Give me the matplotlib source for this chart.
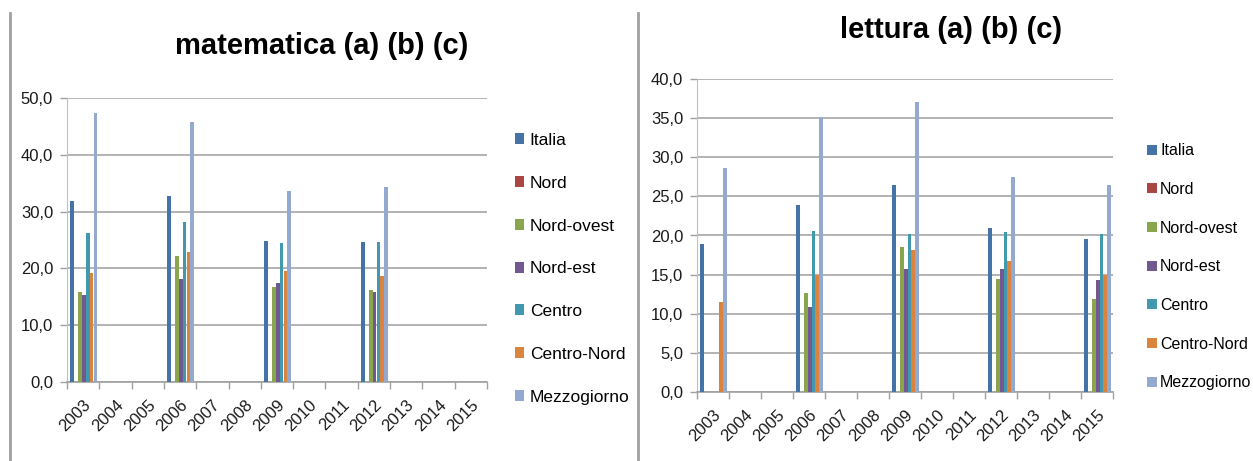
import numpy as np
import matplotlib
matplotlib.use('Agg')
import matplotlib.pyplot as plt
import matplotlib.transforms as mtransforms
from matplotlib.lines import Line2D
from matplotlib.patches import Patch

plt.rcParams['font.family'] = ['Liberation Sans', 'DejaVu Sans']

years = list(range(2003, 2016))
series = ['Italia', 'Nord', 'Nord-ovest', 'Nord-est', 'Centro', 'Centro-Nord', 'Mezzogiorno']
colors = ['#4572A7', '#AA4643', '#89A54E', '#71588F', '#4198AF', '#DB843D', '#93A9CF']

# matematica: survey years and values per area
mat_years = [2003, 2006, 2009, 2012]
mat_italia = [31.9, 32.7, 24.8, 24.6]
mat_nord = [0, 0, 0, 0]
mat_nordovest = [15.9, 22.2, 16.8, 16.2]
mat_nordest = [15.3, 18.2, 17.4, 15.8]
mat_centro = [26.3, 28.2, 24.4, 24.6]
mat_centronord = [19.2, 22.8, 19.5, 18.7]
mat_mezzogiorno = [47.4, 45.8, 33.6, 34.3]

# lettura
let_years = [2003, 2006, 2009, 2012, 2015]
let_italia = [18.9, 23.9, 26.5, 21.0, 19.5]
let_nord = [0, 0, 0, 0, 0]
let_nordovest = [0, 12.7, 18.5, 14.4, 11.9]
let_nordest = [0, 10.9, 15.7, 15.7, 14.3]
let_centro = [0, 20.6, 20.2, 20.5, 20.2]
let_centronord = [11.5, 15.0, 18.2, 16.7, 15.0]
let_mezzogiorno = [28.6, 35.1, 37.1, 27.5, 26.5]

W, H = 1253, 461
fig = plt.figure(figsize=(W / 100, H / 100), dpi=100)


def px(x0, y0, x1, y1):
    return [x0 / W, 1 - y1 / H, (x1 - x0) / W, (y1 - y0) / H]


def draw(ax, yrs, data, ymax, step):
    pos = [years.index(y) for y in yrs]
    bw = 0.12
    for j, vals in enumerate(data):
        x = np.array(pos) + (j - 3) * bw + 0.02
        ax.bar(x, vals, width=bw * 0.97, color=colors[j], linewidth=0, zorder=3)
    ax.set_xlim(-0.5, len(years) - 0.5)
    ax.set_ylim(0, ymax)
    yt = np.arange(0, ymax + 0.01, step)
    ax.set_yticks(yt)
    ax.set_yticklabels([f'{v:.1f}'.replace('.', ',') for v in yt], fontsize=12,
                       color='#1a1a1a')
    ax.set_xticks(range(len(years)))
    ax.set_xticklabels([str(y) for y in years], rotation=45, ha='right',
                       rotation_mode='anchor', fontsize=12, color='#1a1a1a')
    shift = mtransforms.ScaledTranslation(8 / 100, 0, fig.dpi_scale_trans)
    for lab in ax.get_xticklabels():
        lab.set_transform(lab.get_transform() + shift)
    ax.tick_params(axis='x', length=0, pad=11)
    ax.set_xticks(np.arange(-0.5, len(years)), minor=True)
    ax.tick_params(axis='x', which='minor', length=5, color='#A0A0A0', width=1)
    ax.tick_params(axis='y', length=5, color='#A0A0A0', width=1, pad=5)
    ax.grid(axis='y', color='#A6A6A6', linewidth=1.2, zorder=0)
    for s in ['top', 'right']:
        ax.spines[s].set_visible(False)
    ax.spines['left'].set_color('#C0C0C0')
    ax.spines['bottom'].set_color('#A0A0A0')
    ax.spines['bottom'].set_linewidth(1.2)


ax1 = fig.add_axes(px(67, 98, 487, 382))
draw(ax1, mat_years, [mat_italia, mat_nord, mat_nordovest, mat_nordest,
                      mat_centro, mat_centronord, mat_mezzogiorno], 50, 10)
fig.text(322 / W, 1 - 46 / H, 'matematica (a) (b) (c)', fontsize=21,
         fontweight='bold', ha='center', va='center')

ax2 = fig.add_axes(px(697, 79, 1113, 392))
draw(ax2, let_years, [let_italia, let_nord, let_nordovest, let_nordest,
                      let_centro, let_centronord, let_mezzogiorno], 40, 5)
fig.text(951 / W, 1 - 30 / H, 'lettura (a) (b) (c)', fontsize=21,
         fontweight='bold', ha='center', va='center')

handles = [Patch(facecolor=c, edgecolor='none') for c in colors]
fig.legend(handles, series, loc='upper left', bbox_to_anchor=(508 / W, 1 - 126 / H),
           frameon=False, fontsize=12.5, handlelength=0.55, handleheight=0.6,
           handletextpad=0.3, labelspacing=1.6, borderaxespad=0)
fig.legend(handles, series, loc='upper left', bbox_to_anchor=(1141 / W, 1 - 137 / H),
           frameon=False, fontsize=11.5, handlelength=0.6, handleheight=0.6,
           handletextpad=0.2, labelspacing=1.48, borderaxespad=0)

# panel borders
for xb in [10, 638]:
    fig.add_artist(Line2D([xb / W, xb / W], [0, 1 - 13 / H], color='#A0A0A0', linewidth=2))

fig.savefig('out.png', dpi=100)
